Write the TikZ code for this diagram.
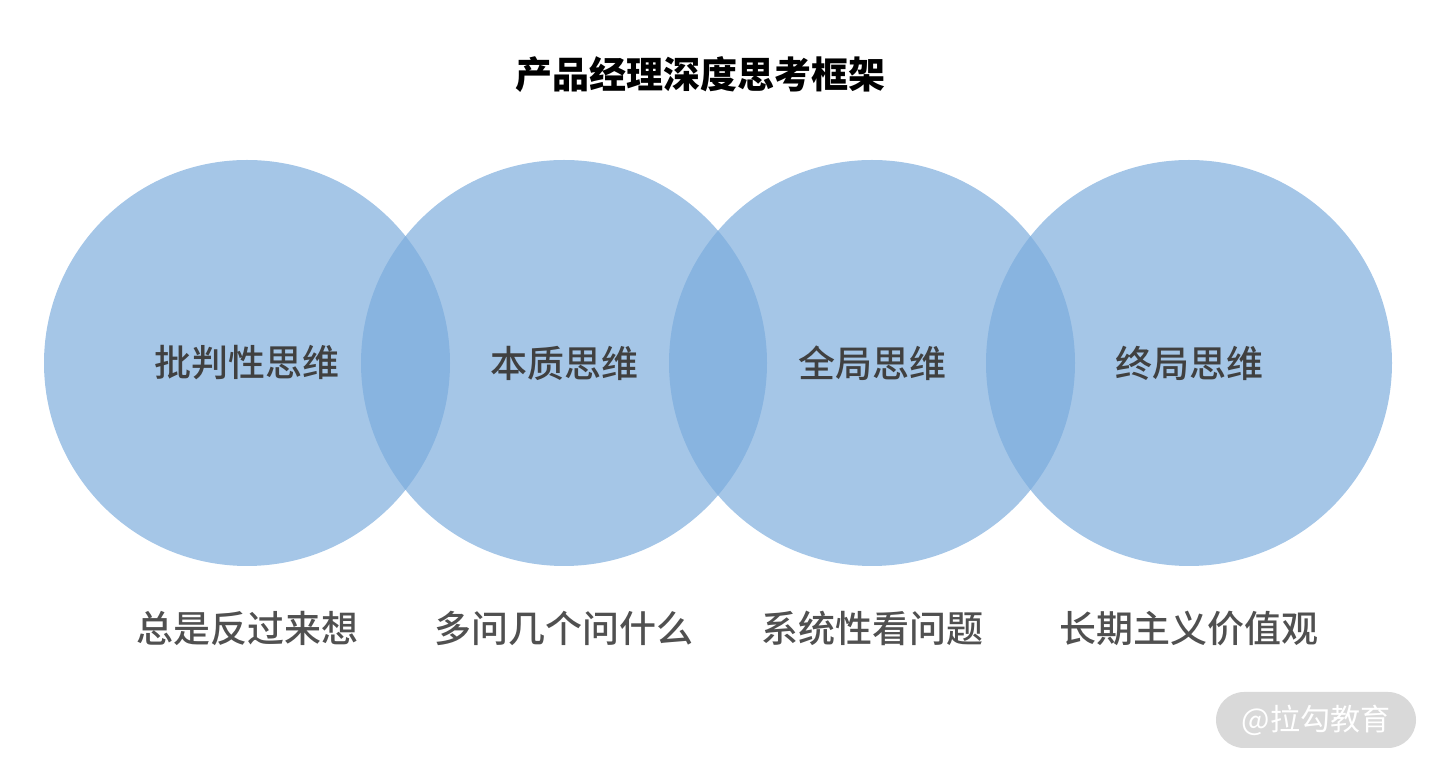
\documentclass[tikz,border=0pt]{standalone}
\usepackage{fontspec}
\setmainfont{Noto Sans CJK SC}
\newfontfamily\midfont{Noto Sans CJK SC Medium}
\usepackage{tikz}
\usetikzlibrary{positioning}
\definecolor{ringblue}{RGB}{122,171,220}
\definecolor{labelgray}{RGB}{64,64,64}
\definecolor{notegray}{RGB}{80,80,80}
\definecolor{markgray}{RGB}{217,217,217}

\begin{document}
\begin{tikzpicture}[
    x=1pt, y=1pt,
    ring/.style={
        circle, fill=ringblue, fill opacity=0.68, text opacity=1,
        minimum size=406pt, inner sep=0pt,
        text=labelgray, font=\midfont\fontsize{37}{40}\selectfont
    },
    note/.style={
        text=notegray, font=\midfont\fontsize{37}{40}\selectfont
    },
    stamp/.style={
        rectangle, rounded corners=28pt, fill=markgray,
        minimum width=200pt, minimum height=56pt,
        text=white, font=\fontsize{30}{32}\selectfont
    }
]
\useasboundingbox (0,0) rectangle (1436,768);

% Title
\node[font=\fontsize{37}{40}\selectfont\bfseries] (title) at (700,693) {产品经理深度思考框架};

% Four overlapping circles
\node[ring] (critical) at (247,405) {批判性思维};
\node[ring] (essence) at (564,405) {本质思维};
\node[ring] (overall) at (872,405) {全局思维};
\node[ring] (endgame) at (1189,405) {终局思维};

% Captions under the circles
\node[note] (reverse) at ([yshift=-62pt]critical.south) {总是反过来想};
\node[note] (askwhy) at ([yshift=-62pt]essence.south) {多问几个问什么};
\node[note] (system) at ([yshift=-62pt]overall.south) {系统性看问题};
\node[note] (longterm) at ([yshift=-62pt]endgame.south) {长期主义价值观};

% Watermark
\node[stamp] (mark) at (1316,48) {@拉勾教育};

\end{tikzpicture}
\end{document}
